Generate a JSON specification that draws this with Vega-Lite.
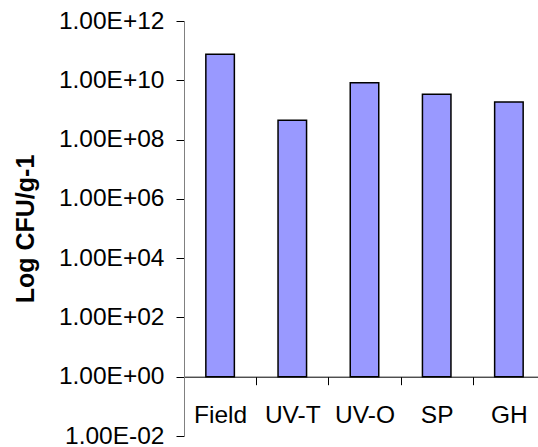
{
  "$schema": "https://vega.github.io/schema/vega-lite/v6.json",
  "width": 354,
  "height": 415,
  "autosize": {"type": "none"},
  "padding": {"left": 184, "top": 21, "right": 0, "bottom": 11},
  "background": "white",
  "config": {"view": {"stroke": null}, "font": "Liberation Sans"},
  "data": {
    "values": [
      {"site": "Field", "cfu": 7.5e10},
      {"site": "UV-T", "cfu": 4.5e8},
      {"site": "UV-O", "cfu": 8.3e9},
      {"site": "SP", "cfu": 3.4e9},
      {"site": "GH", "cfu": 1.85e9}
    ]
  },
  "mark": {"type": "bar", "fill": "#9999FF", "stroke": "black", "strokeWidth": 1.5, "width": {"band": 0.395}},
  "encoding": {
    "x": {
      "field": "site",
      "type": "nominal",
      "sort": null,
      "scale": {"range": [0, 361], "paddingInner": 0, "paddingOuter": 0},
      "axis": {
        "title": null,
        "orient": "bottom",
        "offset": -59.3,
        "tickBand": "extent",
        "tickSize": 8,
        "tickColor": "black",
        "domainColor": "black",
        "labelAngle": 0,
        "labelFontSize": 24.5,
        "labelColor": "black",
        "labelPadding": 19,
        "labelOverlap": false,
        "labelBound": false
      }
    },
    "y": {
      "field": "cfu",
      "type": "quantitative",
      "scale": {"type": "log", "domain": [0.01, 1e12], "nice": false},
      "axis": {
        "title": "Log CFU/g-1",
        "titleFontSize": 25,
        "titleFontWeight": "bold",
        "titleColor": "black",
        "titlePadding": 20,
        "values": [0.01, 1, 100, 10000, 1000000, 100000000, 10000000000, 1000000000000],
        "labelExpr": "'1.00E' + (round(log(datum.value)/LN10) < 0 ? '-' : '+') + (abs(round(log(datum.value)/LN10)) < 10 ? '0' : '') + abs(round(log(datum.value)/LN10))",
        "labelFontSize": 24.5,
        "labelColor": "black",
        "labelPadding": 12,
        "tickSize": 8,
        "tickColor": "black",
        "domainColor": "#808080",
        "grid": false
      }
    },
    "y2": {"datum": 1}
  }
}
